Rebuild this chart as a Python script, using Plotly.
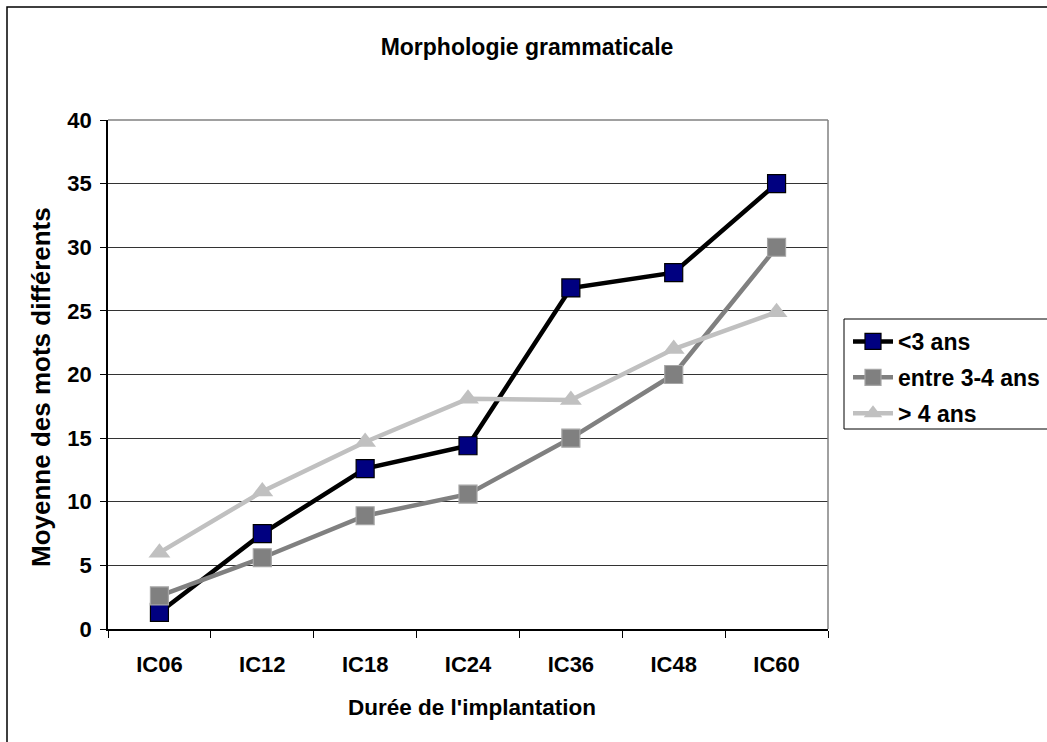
import plotly.graph_objects as go

categories = ["IC06", "IC12", "IC18", "IC24", "IC36", "IC48", "IC60"]
moins_3_ans = [1.3, 7.5, 12.6, 14.4, 26.8, 28.0, 35.0]
entre_3_4_ans = [2.6, 5.6, 8.9, 10.6, 15.0, 20.0, 30.0]
plus_4_ans = [6.0, 10.8, 14.7, 18.1, 18.0, 22.0, 24.9]

W, H = 1047, 742
L, R, T, B = 108, 219, 120, 113
pw, ph = W - L - R, H - T - B


def px_x(x):
    return (x - L) / pw


def px_y(y):
    return (H - B - y) / ph


FONT = "Liberation Sans, Arial, sans-serif"
FS = 22

fig = go.Figure()
fig.add_trace(go.Scatter(
    x=categories, y=moins_3_ans, name="<b><3 ans</b>", mode="lines+markers",
    legendgroup="a",
    line=dict(color="#000000", width=4.5),
    marker=dict(symbol="square", size=18, color="#000080",
                line=dict(color="#000000", width=1.2)),
))
fig.add_trace(go.Scatter(
    x=categories, y=entre_3_4_ans, name="<b>entre 3-4 ans</b>", mode="lines+markers",
    legendgroup="b",
    line=dict(color="#808080", width=4.5),
    marker=dict(symbol="square", size=18, color="#808080",
                line=dict(color="#a6a6a6", width=1.2)),
))
fig.add_trace(go.Scatter(
    x=categories, y=plus_4_ans, name="<b>> 4 ans</b>", mode="lines+markers",
    legendgroup="c",
    line=dict(color="#c0c0c0", width=4.5),
    marker=dict(symbol="triangle-up", size=19, color="#c0c0c0",
                line=dict(color="#c0c0c0", width=0)),
))

# outer chart frame and legend frame
fig.add_shape(type="rect", xref="paper", yref="paper",
              x0=px_x(7), x1=px_x(1060), y0=px_y(760), y1=px_y(7),
              line=dict(color="#000000", width=1.5), layer="below")
fig.add_shape(type="rect", xref="paper", yref="paper",
              x0=px_x(844), x1=px_x(1060), y0=px_y(429), y1=px_y(319),
              line=dict(color="#000000", width=1), layer="below")
# plot-area border on top and right
fig.add_shape(type="line", xref="paper", yref="paper",
              x0=0, x1=1, y0=1, y1=1, line=dict(color="#808080", width=1.5))
fig.add_shape(type="line", xref="paper", yref="paper",
              x0=1, x1=1, y0=0, y1=1, line=dict(color="#808080", width=1.5))

# axis titles
fig.add_annotation(text="<b>Durée de l'implantation</b>", xref="paper", yref="paper",
                   x=px_x(472), y=px_y(707), xanchor="center", yanchor="middle",
                   showarrow=False,
                   font=dict(family=FONT, size=22.5, color="#000000"))
fig.add_annotation(text="<b>Moyenne des mots différents</b>", xref="paper", yref="paper",
                   x=px_x(41), y=px_y(387), xanchor="center", yanchor="middle",
                   textangle=-90, showarrow=False,
                   font=dict(family=FONT, size=26, color="#000000"))

fig.update_layout(
    width=W, height=H,
    margin=dict(l=L, r=R, t=T, b=B, pad=0, autoexpand=False),
    paper_bgcolor="white", plot_bgcolor="white",
    font=dict(family=FONT, size=FS, color="#000000"),
    title=dict(text="<b>Morphologie grammaticale</b>", x=px_x(527), xref="paper",
               xanchor="center", y=1 - 47 / H, yanchor="middle",
               font=dict(size=23)),
    xaxis=dict(
        type="category", tickson="boundaries", ticks="outside", ticklen=7,
        tickcolor="#000000", showline=True, linecolor="#000000", linewidth=1.5,
        showgrid=False, tickfont=dict(size=FS), ticklabelstandoff=15,
        tickprefix="<b>", ticksuffix="</b>",
        range=[-0.5, 6.5],
    ),
    yaxis=dict(
        range=[0, 40], dtick=5, ticks="outside", ticklen=6, tickcolor="#000000",
        showline=True, linecolor="#000000", linewidth=1.5,
        showgrid=True, gridcolor="#333333", gridwidth=1, zeroline=False,
        tickfont=dict(size=FS), ticklabelstandoff=4,
        tickprefix="<b>", ticksuffix="</b>",
    ),
    legend=dict(
        x=px_x(848), y=px_y(320), xanchor="left", yanchor="top",
        bgcolor="rgba(0,0,0,0)", borderwidth=0,
        font=dict(size=23), tracegroupgap=3, itemwidth=40,
    ),
    showlegend=True,
)

fig.write_html("out.html")
